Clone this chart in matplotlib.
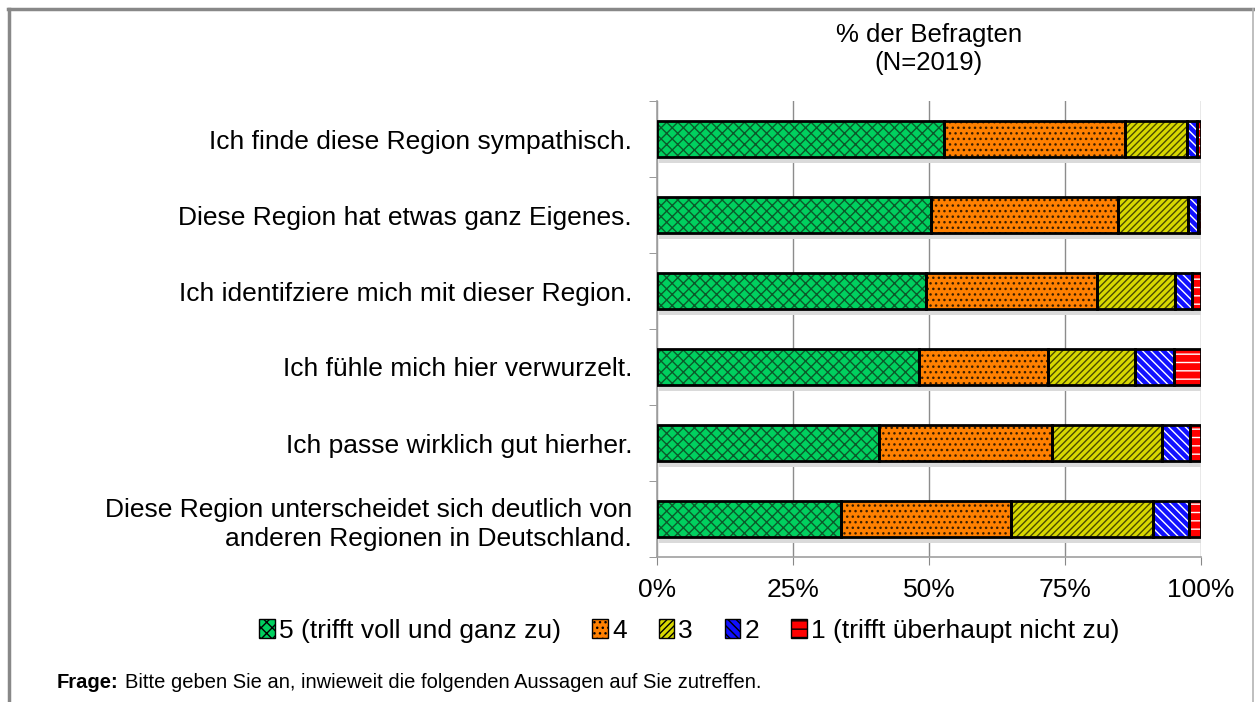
import numpy as np
import matplotlib
matplotlib.use("Agg")
import matplotlib.pyplot as plt
from matplotlib.patches import Patch
from matplotlib.lines import Line2D

plt.rcParams["font.family"] = ["Liberation Sans", "DejaVu Sans"]
plt.rcParams["hatch.linewidth"] = 1.0

# Statements (top to bottom)
statements = [
    "Ich finde diese Region sympathisch.",
    "Diese Region hat etwas ganz Eigenes.",
    "Ich identifziere mich mit dieser Region.",
    "Ich fühle mich hier verwurzelt.",
    "Ich passe wirklich gut hierher.",
    "Diese Region unterscheidet sich deutlich von\nanderen Regionen in Deutschland.",
]

# Share of respondents per answer (in %)
s5 = [52.7, 50.4, 49.4, 48.1, 40.9, 33.8]
s4 = [33.3, 34.4, 31.5, 23.7, 31.8, 31.3]
s3 = [11.4, 12.8, 14.3, 16.1, 20.1, 26.1]
s2 = [1.8, 1.8, 3.1, 7.2, 5.2, 6.6]
s1 = [0.8, 0.6, 1.7, 4.9, 2.0, 2.2]

series_labels = ["5 (trifft voll und ganz zu)", "4", "3", "2",
                 "1 (trifft überhaupt nicht zu)"]
x_ticks = [0, 25, 50, 75, 100]
x_ticklabels = ["0%", "25%", "50%", "75%", "100%"]

# fill colour, hatch colour, hatch pattern per series
styles = [
    ("#00D05F", "#0B5A2A", "xxx"),
    ("#FF8000", "#3A1E00", "..."),
    ("#D8D800", "#4A4A00", "/////"),
    ("#1010FF", "#FFFFFF", "\\\\\\\\"),
    ("#FF0000", "#FFFFFF", "--"),
]

fig = plt.figure(figsize=(12.55, 7.02), dpi=100)
ax = fig.add_axes([657 / 1255, 145 / 702, 544 / 1255, 456 / 702])

y = np.arange(len(statements))[::-1]
height = 0.48
left = np.zeros(len(statements))

# light shadow under the bars
total = np.array(s5) + np.array(s4) + np.array(s3) + np.array(s2) + np.array(s1)
ax.barh(y - 0.07, total, left=0.4, height=height, color="#dadada",
        linewidth=0, zorder=2)

for vals, (fc, hc, hatch) in zip([s5, s4, s3, s2, s1], styles):
    vals = np.array(vals)
    ax.barh(y, vals, left=left, height=height, color=fc, edgecolor=hc,
            hatch=hatch, linewidth=0, zorder=3)
    ax.barh(y, vals, left=left, height=height, fill=False,
            edgecolor="black", linewidth=2, zorder=4)
    left += vals

ax.set_xlim(0, 100)
ax.set_ylim(-0.5, len(statements) - 0.5)
ax.set_xticks(x_ticks)
ax.set_xticklabels(x_ticklabels, fontsize=19)
ax.set_yticks(y)
ax.set_yticklabels(statements, fontsize=19, linespacing=1.3)
ax.set_yticks(np.arange(-0.5, len(statements), 1), minor=True)
ax.tick_params(axis="y", which="major", length=0, pad=18)
ax.tick_params(axis="y", which="minor", length=6, color="#888888")
ax.tick_params(axis="x", length=6, color="#888888", pad=9)
ax.grid(True, axis="x", color="#8c8c8c", linewidth=1, zorder=0)
ax.set_axisbelow(True)
for side in ["top", "right"]:
    ax.spines[side].set_visible(False)
for side in ["left", "bottom"]:
    ax.spines[side].set_color("#a0a0a0")
    ax.spines[side].set_linewidth(1.2)

ax.set_title("% der Befragten\n(N=2019)", fontsize=18.5, pad=22,
             linespacing=1.25)

handles = [Patch(facecolor=fc, edgecolor="black", hatch=hatch, linewidth=1)
           for fc, hc, hatch in styles]
fig.legend(handles, series_labels, loc="center", ncol=5,
           bbox_to_anchor=(689 / 1255, 1 - 631 / 702), frameon=False,
           fontsize=19, handlelength=0.6, handleheight=0.75,
           handletextpad=0.15, columnspacing=1.2)

fig.text(57 / 1255, 1 - 683 / 702, "Frage:", fontsize=14.5,
         fontweight="bold", va="center")
fig.text(125 / 1255, 1 - 683 / 702,
         "Bitte geben Sie an, inwieweit die folgenden Aussagen auf Sie zutreffen.",
         fontsize=14.5, va="center")

# outer frame
fig.add_artist(Line2D([8 / 1255, 1253 / 1255], [1 - 9 / 702, 1 - 9 / 702],
                      color="#888888", linewidth=2.5))
fig.add_artist(Line2D([8.5 / 1255, 8.5 / 1255], [0, 1 - 9 / 702],
                      color="#888888", linewidth=2.5))
fig.add_artist(Line2D([1253 / 1255, 1253 / 1255], [0, 1 - 9 / 702],
                      color="#b4b4b4", linewidth=1.2))

fig.savefig("out.png", dpi=100)
